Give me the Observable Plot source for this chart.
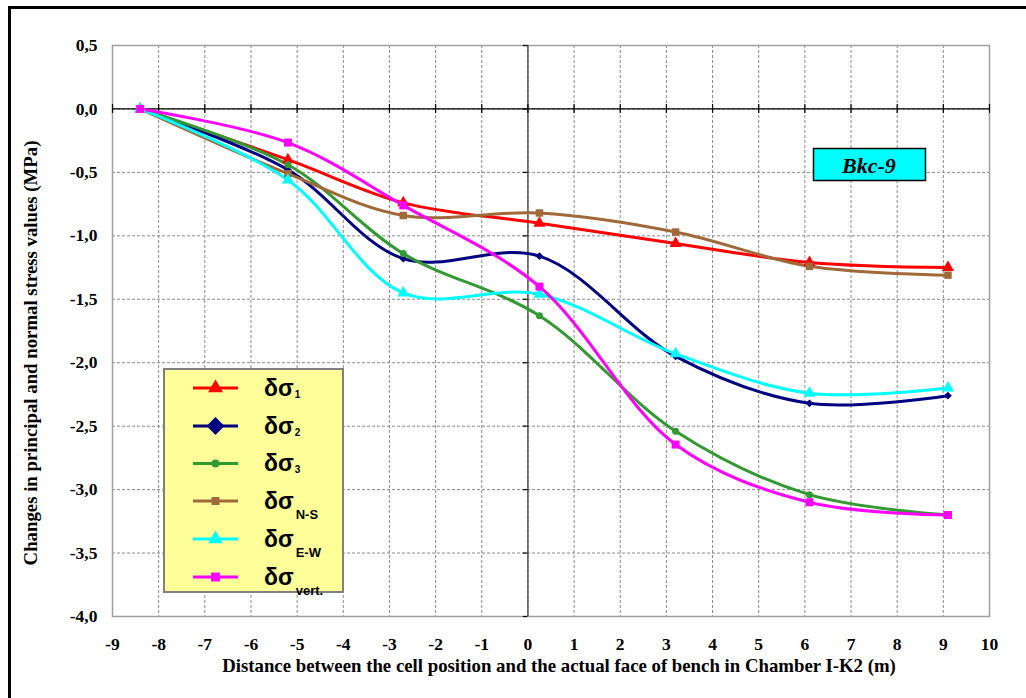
<!DOCTYPE html>
<html><head><meta charset="utf-8">
<script src="https://cdn.jsdelivr.net/npm/d3@7"></script>
<script src="https://cdn.jsdelivr.net/npm/@observablehq/plot@0.6"></script>
<style>
body{margin:0;background:#fff;}
#chart{position:relative;width:1026px;height:698px;}
</style>
</head><body><div id="chart"></div>
<script>
// Distances (m) of the measurement epochs
const distances = [-8.4, -5.2, -2.7, 0.25, 3.2, 6.1, 9.1];
// Stress changes (MPa)
const dSigma1    = [0, -0.40, -0.74, -0.90, -1.06, -1.21, -1.25];
const dSigma2    = [0, -0.48, -1.18, -1.16, -1.95, -2.32, -2.26];
const dSigma3    = [0, -0.44, -1.14, -1.63, -2.54, -3.04, -3.20];
const dSigmaNS   = [0, -0.51, -0.84, -0.82, -0.97, -1.24, -1.31];
const dSigmaEW   = [0, -0.56, -1.45, -1.46, -1.93, -2.24, -2.20];
const dSigmaVert = [0, -0.265, -0.76, -1.40, -2.645, -3.10, -3.20];

const xTicks = [-9,-8,-7,-6,-5,-4,-3,-2,-1,0,1,2,3,4,5,6,7,8,9,10];
const yTicks = [0.5,0,-0.5,-1,-1.5,-2,-2.5,-3,-3.5,-4];
const xTitle = "Distance between the cell position and the actual face of bench in Chamber I-K2 (m)";
const yTitle = "Changes in principal and normal stress values (MPa)";
const tag = "Bkc-9";

const series = [
  {key:"s1",   sub:"1",     values:dSigma1,    color:"#FF0000", symbol:"triangle", r:4.5, lr:5.5},
  {key:"s2",   sub:"2",     values:dSigma2,    color:"#000080", symbol:"diamond2", r:3.5, lr:8},
  {key:"s3",   sub:"3",     values:dSigma3,    color:"#339933", symbol:"circle",   r:3.5, lr:4},
  {key:"sNS",  sub:"N-S",   values:dSigmaNS,   color:"#A0693A", symbol:"square",   r:4.2, lr:4.5},
  {key:"sEW",  sub:"E-W",   values:dSigmaEW,   color:"#00FFFF", symbol:"triangle", r:4.5, lr:5.5},
  {key:"sV",   sub:"vert.", values:dSigmaVert, color:"#FF00FF", symbol:"square",   r:4.5, lr:5}
];

const fmtY = d => d.toFixed(1).replace(".", ",");
const font = "'Liberation Serif','Times New Roman',serif";

const marks = [
  Plot.gridX(xTicks, {stroke:"#8a8a8a", strokeOpacity:1, strokeDasharray:"3,2"}),
  Plot.gridY(yTicks, {stroke:"#8a8a8a", strokeOpacity:1, strokeDasharray:"3,2"}),
  Plot.frame({stroke:"#a0a0a0", strokeWidth:1.5}),
  Plot.ruleY([0], {stroke:"#000", strokeWidth:1.3}),
  Plot.ruleX([0], {stroke:"#555", strokeWidth:1.5}),
  Plot.ruleX(xTicks, {x:d=>d, y1:0.035, y2:-0.035, stroke:"#000", strokeWidth:1.2}),
  Plot.ruleY(yTicks, {y:d=>d, x1:-0.1, x2:0, stroke:"#000", strokeWidth:1.2}),
  Plot.axisX(xTicks, {tickSize:0, tickPadding:21, tickFormat:d=>String(d), label:null, fontSize:17.5, fontWeight:"bold"}),
  Plot.axisY(yTicks, {tickSize:0, tickPadding:15, tickFormat:fmtY, label:null, fontSize:17.5, fontWeight:"bold"}),
  Plot.text([xTitle], {frameAnchor:"bottom", lineAnchor:"middle", textAnchor:"middle", dx:8, dy:49, fontSize:18.8, fontWeight:"bold"}),
  Plot.text([yTitle], {frameAnchor:"left", lineAnchor:"middle", textAnchor:"middle", dx:-82, dy:22, rotate:-90, fontSize:18.8, fontWeight:"bold"})
];
for (const s of series) {
  const data = distances.map((x,i)=>({x, y:s.values[i]}));
  marks.push(Plot.line(data, {x:"x", y:"y", stroke:s.color, strokeWidth:3, curve:"catmull-rom"}));
}
for (const s of series) {
  const data = distances.map((x,i)=>({x, y:s.values[i]}));
  marks.push(Plot.dot(data, {x:"x", y:"y", fill:s.color, stroke:"none", symbol:s.symbol, r:s.r}));
}

const chart = Plot.plot({
  width:1026, height:698,
  marginLeft:112, marginRight:37, marginTop:45, marginBottom:82,
  x:{domain:[-9,10], axis:null},
  y:{domain:[-4,0.5], axis:null},
  style:{fontFamily:font, color:"#000", background:"#fff", overflow:"visible"},
  marks
});
document.getElementById("chart").appendChild(chart);

const svg = d3.select(chart);
// outer picture border (top and left visible)
svg.append("line").attr("x1",8).attr("x2",1026).attr("y1",7.5).attr("y2",7.5).attr("stroke","#000").attr("stroke-width",3);
svg.append("line").attr("x1",9.5).attr("x2",9.5).attr("y1",6).attr("y2",698).attr("stroke","#000").attr("stroke-width",3);

// Bkc-9 tag
const tg = svg.append("g");
tg.append("rect").attr("x",813.5).attr("y",148.5).attr("width",112).attr("height",32).attr("fill","#00FFFF").attr("stroke","#000").attr("stroke-width",1.5);
tg.append("text").attr("x",869).attr("y",165).attr("text-anchor","middle").attr("dominant-baseline","central")
  .attr("font-family",font).attr("font-weight","bold").attr("font-style","italic").attr("font-size",22).text(tag);

// Legend
const lg = svg.append("g");
lg.append("rect").attr("x",164).attr("y",369).attr("width",179).attr("height",223).attr("fill","#FFFF99").attr("stroke","#808080").attr("stroke-width",2);
const rowY = [388, 426, 463.5, 501, 539, 577];
const symMap = {triangle:d3.symbolTriangle, diamond2:d3.symbolDiamond2, circle:d3.symbolCircle, square:d3.symbolSquare};
series.forEach((s,i)=>{
  const y = rowY[i];
  lg.append("line").attr("x1",193).attr("x2",238).attr("y1",y).attr("y2",y).attr("stroke",s.color).attr("stroke-width",3);
  lg.append("path").attr("transform",`translate(215.5,${y})`).attr("fill",s.color)
    .attr("d", d3.symbol(symMap[s.symbol], Math.PI*s.lr*s.lr)());
  const t = lg.append("text").attr("x",264).attr("y",y+7.5).attr("text-anchor","start")
    .attr("font-family","'Liberation Sans',Arial,sans-serif").attr("font-weight","bold").attr("font-size",23).attr("fill","#000");
  t.append("tspan").text("δσ");
  const short = s.sub.length === 1;
  t.append("tspan").attr("font-size", short ? 10 : 13).attr("dy", short ? 2 : 10).attr("dx", short ? 1 : 2).text(s.sub);
});
</script></body></html>
